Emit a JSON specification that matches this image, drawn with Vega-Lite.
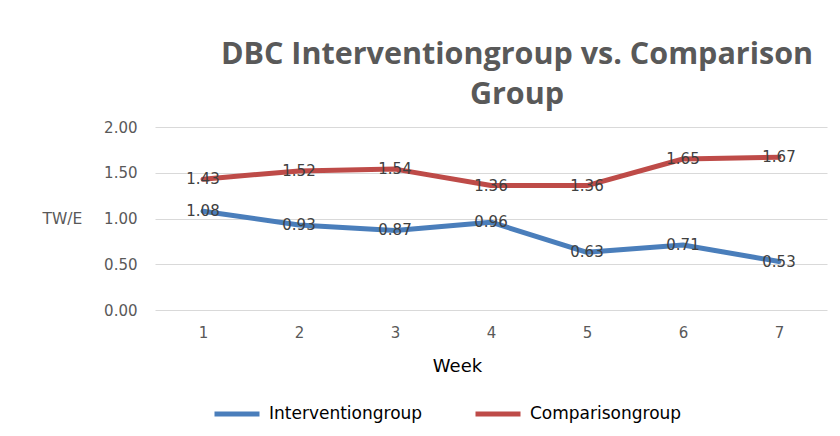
{
  "$schema": "https://vega.github.io/schema/vega-lite/v6.json",
  "width": 672,
  "height": 183,
  "autosize": "none",
  "padding": {"left": 155, "top": 127, "right": 13, "bottom": 126},
  "background": "white",
  "title": {
    "text": ["DBC Interventiongroup vs. Comparison", "Group"],
    "font": "Open Sans",
    "fontSize": 30.5,
    "fontWeight": "bold",
    "color": "#595959",
    "anchor": "middle",
    "dx": 26,
    "offset": 10,
    "lineHeight": 40
  },
  "data": {
    "values": [
      {"week": 1, "group": "Interventiongroup", "value": 1.08},
      {"week": 2, "group": "Interventiongroup", "value": 0.93},
      {"week": 3, "group": "Interventiongroup", "value": 0.87},
      {"week": 4, "group": "Interventiongroup", "value": 0.96},
      {"week": 5, "group": "Interventiongroup", "value": 0.63},
      {"week": 6, "group": "Interventiongroup", "value": 0.71},
      {"week": 7, "group": "Interventiongroup", "value": 0.53},
      {"week": 1, "group": "Comparisongroup", "value": 1.43},
      {"week": 2, "group": "Comparisongroup", "value": 1.52},
      {"week": 3, "group": "Comparisongroup", "value": 1.54},
      {"week": 4, "group": "Comparisongroup", "value": 1.36},
      {"week": 5, "group": "Comparisongroup", "value": 1.36},
      {"week": 6, "group": "Comparisongroup", "value": 1.65},
      {"week": 7, "group": "Comparisongroup", "value": 1.67}
    ]
  },
  "config": {
    "view": {"stroke": null}
  },
  "encoding": {
    "x": {
      "field": "week",
      "type": "ordinal",
      "scale": {"type": "point", "padding": 0.5},
      "axis": {
        "title": "Week",
        "labelAngle": 0,
        "domain": false,
        "ticks": false,
        "grid": false,
        "labelFont": "DejaVu Sans",
        "labelFontSize": 15,
        "labelColor": "#595959",
        "labelPadding": 15,
        "titleFont": "DejaVu Sans",
        "titleFontSize": 18,
        "titleFontWeight": "normal",
        "titleColor": "#000000",
        "titleX": 302,
        "titleY": 47,
        "titleBaseline": "top",
        "titleAlign": "center"
      }
    },
    "y": {
      "field": "value",
      "type": "quantitative",
      "scale": {"domain": [0, 2]},
      "axis": {
        "title": "TW/E",
        "values": [0, 0.5, 1, 1.5, 2],
        "format": ".2f",
        "domain": false,
        "ticks": false,
        "gridColor": "#d9d9d9",
        "gridWidth": 1,
        "labelFont": "DejaVu Sans",
        "labelFontSize": 15,
        "labelColor": "#595959",
        "labelPadding": 18,
        "titleFont": "DejaVu Sans",
        "titleFontSize": 15.5,
        "titleFontWeight": "normal",
        "titleColor": "#595959",
        "titleAngle": 0,
        "titleX": -113,
        "titleY": 91.5,
        "titleAlign": "left",
        "titleBaseline": "middle"
      }
    }
  },
  "layer": [
    {
      "mark": {"type": "line", "strokeWidth": 5, "strokeCap": "round", "strokeJoin": "round"},
      "encoding": {
        "color": {
          "field": "group",
          "type": "nominal",
          "scale": {"domain": ["Interventiongroup", "Comparisongroup"], "range": ["#4a7ebb", "#be4b48"]},
          "legend": {
            "title": null,
            "orient": "none",
            "direction": "horizontal",
            "legendX": 57,
            "legendY": 262,
            "symbolType": "stroke",
            "symbolSize": 2025,
            "symbolStrokeWidth": 5,
            "labelFont": "DejaVu Sans",
            "labelFontSize": 17,
            "labelColor": "#000000",
            "labelOffset": 7,
            "columnPadding": 42
          }
        }
      }
    },
    {
      "mark": {"type": "text", "font": "DejaVu Sans", "fontSize": 15, "color": "#404040", "baseline": "middle", "align": "center"},
      "encoding": {
        "text": {"field": "value", "type": "quantitative", "format": ".2f"}
      }
    }
  ]
}
